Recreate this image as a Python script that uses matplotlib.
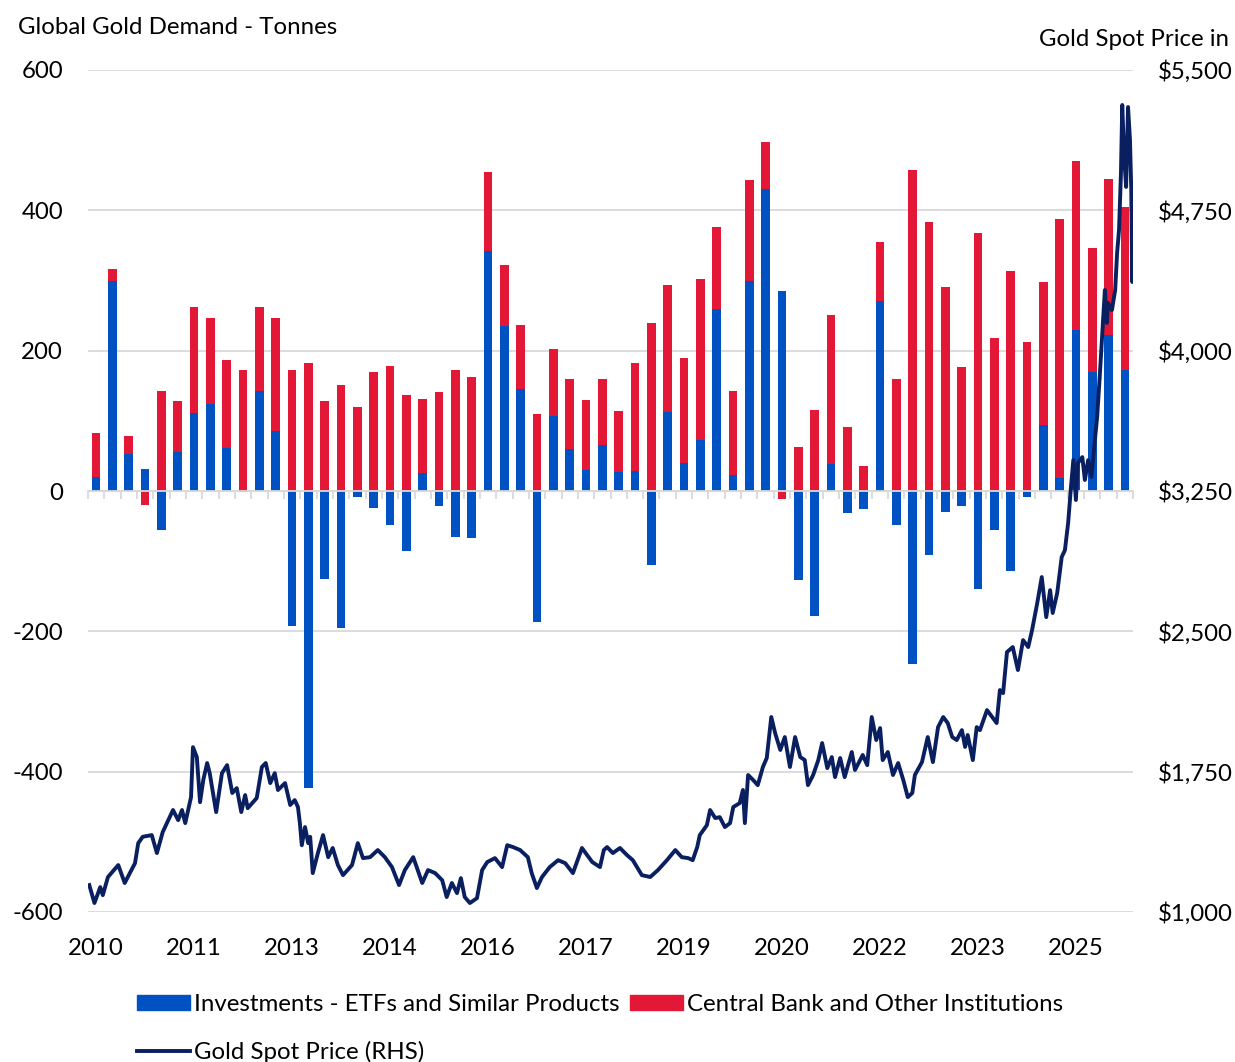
import matplotlib.pyplot as plt
from matplotlib.patches import Patch
from matplotlib.lines import Line2D
import pandas as pd
import numpy as np

# quarterly demand, tonnes
quarters = pd.period_range('2010Q1', '2025Q4', freq='Q')
etf_tonnes = [20, 299, 53, 32, -55, 56, 111, 124, 61, -2, 142, 86,
              -192, -423, -125, -195, -9, -24, -48, -85, 26, -21, -66, -67,
              342, 235, 145, -187, 107, 60, 30, 65, 27, 28, -105, 113,
              40, 72, 260, 23, 299, 431, 285, -127, -178, 39, -31, -25,
              271, -49, -246, -91, -30, -22, -140, -56, -114, -8, 94, 19,
              229, 170, 222, 173]
cb_tonnes = [62, 17, 26, -20, 143, 72, 151, 123, 125, 172, 120, 161,
             172, 182, 128, 151, 120, 170, 178, 137, 105, 141, 172, 163,
             113, 87, 91, 110, 95, 99, 99, 95, 87, 155, 240, 180,
             149, 230, 116, 120, 144, 67, -12, 62, 116, 212, 91, 35,
             84, 159, 458, 383, 291, 177, 368, 218, 314, 212, 204, 369,
             242, 177, 223, 232]

# gold spot price, USD/oz (decimal year, price)
price_years = [
    2010.02, 2010.10, 2010.19, 2010.23, 2010.31, 2010.47, 2010.57, 2010.73, 2010.78, 2010.85,
    2010.99, 2011.07, 2011.16, 2011.32, 2011.40, 2011.46, 2011.51, 2011.60, 2011.63, 2011.69,
    2011.74, 2011.79, 2011.85, 2011.89, 2011.99, 2012.08, 2012.16, 2012.24, 2012.31, 2012.38,
    2012.44, 2012.48, 2012.62, 2012.70, 2012.76, 2012.83, 2012.90, 2012.95, 2013.06, 2013.14,
    2013.21, 2013.26, 2013.29, 2013.32, 2013.37, 2013.42, 2013.45, 2013.49, 2013.57, 2013.65,
    2013.73, 2013.80, 2013.88, 2013.96, 2014.10, 2014.19, 2014.27, 2014.38, 2014.50, 2014.61,
    2014.72, 2014.83, 2014.92, 2015.05, 2015.19, 2015.28, 2015.39, 2015.50, 2015.57, 2015.65,
    2015.73, 2015.79, 2015.85, 2015.93, 2016.04, 2016.12, 2016.20, 2016.32, 2016.43, 2016.51,
    2016.60, 2016.71, 2016.83, 2016.89, 2016.97, 2017.05, 2017.17, 2017.30, 2017.41, 2017.53,
    2017.67, 2017.83, 2017.95, 2018.01, 2018.06, 2018.15, 2018.26, 2018.37, 2018.46, 2018.60,
    2018.73, 2018.85, 2018.99, 2019.12, 2019.22, 2019.32, 2019.39, 2019.46, 2019.50, 2019.61,
    2019.66, 2019.74, 2019.81, 2019.89, 2019.97, 2020.02, 2020.12, 2020.17, 2020.20, 2020.25,
    2020.33, 2020.40, 2020.48, 2020.54, 2020.61, 2020.67, 2020.75, 2020.82, 2020.90, 2020.98,
    2021.06, 2021.13, 2021.18, 2021.26, 2021.34, 2021.40, 2021.48, 2021.55, 2021.60, 2021.68,
    2021.75, 2021.86, 2021.91, 2022.03, 2022.10, 2022.17, 2022.24, 2022.30, 2022.34, 2022.42,
    2022.50, 2022.58, 2022.66, 2022.73, 2022.80, 2022.84, 2022.95, 2023.04, 2023.12, 2023.20,
    2023.28, 2023.35, 2023.42, 2023.49, 2023.57, 2023.62, 2023.66, 2023.74, 2023.80, 2023.85,
    2023.96, 2024.04, 2024.11, 2024.16, 2024.21, 2024.27, 2024.36, 2024.44, 2024.52, 2024.60,
    2024.66, 2024.74, 2024.81, 2024.88, 2024.94, 2024.98, 2025.05, 2025.12, 2025.17, 2025.22,
    2025.26, 2025.30, 2025.34, 2025.37, 2025.44, 2025.48, 2025.53, 2025.58, 2025.61, 2025.67,
    2025.71, 2025.76, 2025.79, 2025.82, 2025.84, 2025.90, 2025.95, 2025.98, 2026.01, 2026.04,
    2026.06, 2026.09, 2026.12, 2026.15, 2026.18, 2026.20, 2026.215, 2026.227]
price_usd = [
    1144, 1048, 1133, 1090, 1187, 1251, 1155, 1261, 1368, 1402,
    1411, 1315, 1427, 1545, 1491, 1545, 1475, 1614, 1881, 1828,
    1587, 1705, 1796, 1742, 1534, 1742, 1785, 1636, 1662, 1534,
    1625, 1555, 1609, 1775, 1796, 1689, 1742, 1652, 1689, 1572,
    1598, 1561, 1475, 1357, 1454, 1368, 1402, 1208, 1315, 1411,
    1293, 1342, 1251, 1197, 1251, 1368, 1288, 1293, 1331, 1293,
    1240, 1144, 1224, 1293, 1155, 1224, 1208, 1170, 1080, 1155,
    1101, 1181, 1080, 1048, 1074, 1224, 1267, 1288, 1240, 1357,
    1347, 1331, 1293, 1208, 1128, 1187, 1240, 1277, 1261, 1208,
    1342, 1267, 1240, 1331, 1347, 1315, 1342, 1304, 1277, 1197,
    1187, 1224, 1277, 1331, 1293, 1288, 1277, 1347, 1411, 1464,
    1545, 1502, 1507, 1454, 1475, 1561, 1582, 1652, 1475, 1732,
    1705, 1678, 1775, 1823, 2042, 1956, 1866, 1935, 1775, 1935,
    1828, 1812, 1678, 1732, 1812, 1903, 1769, 1828, 1721, 1823,
    1721, 1855, 1759, 1839, 1785, 2042, 1919, 1983, 1812, 1855,
    1732, 1796, 1705, 1614, 1636, 1732, 1801, 1935, 1801, 1988,
    2042, 2010, 1935, 1919, 1972, 1882, 1946, 1812, 1988, 1972,
    2079, 2042, 2010, 2186, 2170, 2389, 2416, 2293, 2453, 2416,
    2507, 2651, 2790, 2576, 2720, 2598, 2705, 2897, 2934, 3080,
    3255, 3415, 3202, 3399, 3431, 3309, 3415, 3325, 3431, 3645,
    3859, 4148, 4324, 4148, 4255, 4217, 4324, 4522, 4645, 4949,
    5313, 5035, 4875, 5302, 5126, 4859, 4367, 4645]

blue = '#0052C2'
red = '#E31837'
navy = '#0A1F60'
grid_c = '#D9D9D9'

plt.rcParams['font.family'] = ['Lato', 'DejaVu Sans']
plt.rcParams['axes.unicode_minus'] = False
fs = 17.3

fig = plt.figure(figsize=(12.35, 10.62), dpi=100)
ax = fig.add_axes([88/1235, 1-912/1062, (1133-88)/1235, (912-70)/1062])

x = np.arange(len(quarters))
etf = np.array(etf_tonnes)
cb = np.array(cb_tonnes)
cb_bottom = np.where(cb >= 0, np.maximum(etf, 0), np.minimum(etf, 0))
ax.bar(x, etf, width=0.53, color=blue, zorder=2)
ax.bar(x, cb, width=0.53, bottom=cb_bottom, color=red, zorder=2)

ax.set_xlim(-0.5, len(quarters) - 0.5)
ax.set_ylim(-600, 600)
ax.set_yticks(range(-600, 601, 200))
ax.tick_params(axis='y', length=0, pad=18, labelsize=fs)
ax.yaxis.grid(True, color=grid_c, lw=1.3, zorder=0)
ax.set_axisbelow(True)
for s in ['top', 'left', 'right']:
    ax.spines[s].set_visible(False)
ax.spines['bottom'].set_position(('data', 0))
ax.spines['bottom'].set_color(grid_c)
ax.spines['bottom'].set_linewidth(1.3)
ax.set_xticks(np.arange(-0.5, len(quarters), 1))
ax.tick_params(axis='x', length=6, width=1.3, color=grid_c, labelbottom=False)

# year labels every 6 quarters, at the bottom of the plot
sec = ax.secondary_xaxis(0)
sec.set_xticks(x[::6], [str(q.year) for q in quarters[::6]])
sec.tick_params(length=0, pad=19, labelsize=fs)
sec.spines['bottom'].set_visible(False)

# price on right axis
ax2 = ax.twinx()
ax2.set_ylim(1000, 5500)
ax2.set_yticks(range(1000, 5501, 750))
ax2.set_yticklabels(['${:,.0f}'.format(v) for v in range(1000, 5501, 750)])
ax2.tick_params(axis='y', length=0, pad=18, labelsize=fs)
for s in ax2.spines.values():
    s.set_visible(False)

ax3 = ax2.twiny()
ax3.plot(price_years, price_usd, color=navy, lw=2.8, solid_joinstyle='round')
ax3.set_xlim(2010.0, price_years[-1])
ax3.set_xticks([])
for s in ax3.spines.values():
    s.set_visible(False)

fig.text(18/1235, 1-27/1062, 'Global Gold Demand - Tonnes', fontsize=fs,
         ha='left', va='center')
fig.text(1229/1235, 1-39/1062, 'Gold Spot Price in', fontsize=fs,
         ha='right', va='center')

handles = [Patch(color=blue), Line2D([], [], color=navy, lw=2.8), Patch(color=red)]
labels = ['Investments - ETFs and Similar Products', 'Gold Spot Price (RHS)',
          'Central Bank and Other Institutions']
fig.legend(handles, labels, ncol=2, loc='upper left',
           bbox_to_anchor=(137/1235, 1-994/1062), frameon=False, fontsize=fs,
           handlelength=2.2, handleheight=0.63, handletextpad=0.17,
           columnspacing=0.45, labelspacing=1.07, borderpad=0, borderaxespad=0)

fig.savefig('out.png', dpi=100)
